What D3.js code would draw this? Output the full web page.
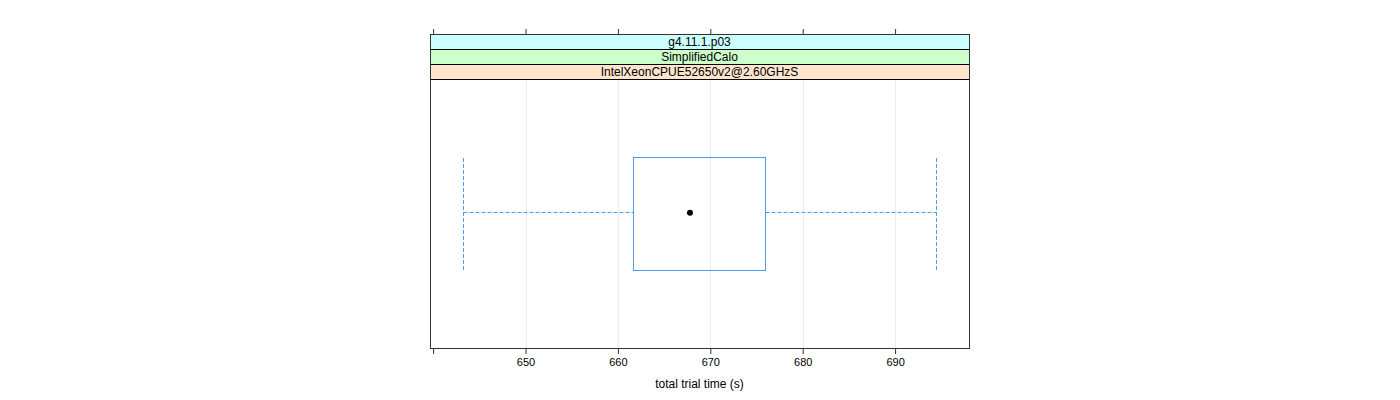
<!DOCTYPE html>
<html><head><meta charset="utf-8">
<script src="https://cdn.jsdelivr.net/npm/d3@7"></script>
<style>body{margin:0;background:#fff;} svg{display:block;font-family:"Liberation Sans",Arial,sans-serif;}</style>
</head><body><svg id="c" width="1400" height="400"></svg>
<script>
const stripLabels = ["g4.11.1.p03", "SimplifiedCalo", "IntelXeonCPUE52650v2@2.60GHzS"];
const stripColors = ["#ccffff", "#ccffcc", "#ffe5cc"];
const categories = ["all"];
const whiskerLow = [643.3];
const q1 = [661.7];
const median = [667.8];
const q3 = [676.0];
const whiskerHigh = [694.5];
const tickValues = [640, 650, 660, 670, 680, 690];
const tickLabels = ["", "650", "660", "670", "680", "690"];
const xTitle = "total trial time (s)";

(function(){
const svg = d3.select("#c");
const L = 430, R = 969, T = 34, stripH = 15, B = 348;
const panelTop = T + stripH * stripLabels.length;
const x = d3.scaleLinear().domain([639.66, 698.0]).range([L, R]);
const y = d3.scaleBand().domain(categories).range([panelTop, B]).paddingInner(0).paddingOuter(0.5);

// grid
svg.append("g").selectAll("line").data(tickValues.filter(v => v > 645)).join("line")
  .attr("x1", d => Math.round(x(d)) + 0.5).attr("x2", d => Math.round(x(d)) + 0.5)
  .attr("y1", panelTop).attr("y2", B)
  .attr("stroke", "#ebebeb").attr("stroke-width", 1);

// strips
stripLabels.forEach((s, i) => {
  const yy = T + i * stripH;
  svg.append("rect").attr("x", L + 0.5).attr("y", yy + 0.5).attr("width", R - L).attr("height", stripH)
    .attr("fill", stripColors[i]).attr("stroke", "#000").attr("stroke-width", 1);
  svg.append("text").attr("x", (L + R) / 2).attr("y", yy + stripH / 2 + 4.5)
    .attr("text-anchor", "middle").attr("font-size", 12).attr("fill", "#000").text(s);
});

// box
const cy = y(categories[0]) + y.bandwidth() / 2;
const half = 56.5;
const blue = "#4a9cf0";
const ly = Math.floor(cy) - 0.5;
categories.forEach((c, i) => {
  const g = svg.append("g");
  const xl = Math.floor(x(whiskerLow[i])) + 0.5, xh = Math.floor(x(whiskerHigh[i])) + 0.5;
  const b1 = Math.floor(x(q1[i])) + 0.5, b3 = Math.floor(x(q3[i])) + 0.5;
  const bt = Math.floor(cy - half) + 0.5;
  g.append("line").attr("x1", xl).attr("x2", b1).attr("y1", ly).attr("y2", ly)
    .attr("stroke", blue).attr("stroke-dasharray", "4,2");
  g.append("line").attr("x1", b3).attr("x2", xh).attr("y1", ly).attr("y2", ly)
    .attr("stroke", blue).attr("stroke-dasharray", "4,2");
  [xl, xh].forEach(v => {
    g.append("line").attr("x1", v).attr("x2", v)
      .attr("y1", bt + 0.5).attr("y2", bt + 113).attr("stroke", blue).attr("stroke-dasharray", "4,2");
  });
  g.append("rect").attr("x", b1).attr("y", bt)
    .attr("width", b3 - b1).attr("height", 113)
    .attr("fill", "none").attr("stroke", blue).attr("stroke-width", 1);
  g.append("circle").attr("cx", x(median[i])).attr("cy", ly + 0.2).attr("r", 3).attr("fill", "#000");
});

// panel border
svg.append("rect").attr("x", L + 0.5).attr("y", T + 0.5).attr("width", R - L).attr("height", B - T)
  .attr("fill", "none").attr("stroke", "#333").attr("stroke-width", 1);

// axes
const axTop = svg.append("g").attr("transform", `translate(0,${T})`)
  .call(d3.axisTop(x).tickValues(tickValues).tickSize(5).tickFormat(""));
const axBot = svg.append("g").attr("transform", `translate(0,${B + 1})`)
  .call(d3.axisBottom(x).tickValues(tickValues).tickSize(5).tickPadding(4)
    .tickFormat((d, i) => tickLabels[i]));
[axTop, axBot].forEach(g => {
  g.select(".domain").remove();
  g.selectAll("line").attr("stroke", "#333");
  g.selectAll("text").attr("font-size", 11).attr("fill", "#000").attr("font-family", "Liberation Sans, Arial, sans-serif");
});

svg.append("text").attr("x", (L + R) / 2).attr("y", 388).attr("text-anchor", "middle")
  .attr("font-size", 12).attr("fill", "#000").text(xTitle);
})();
</script>
</body></html>
